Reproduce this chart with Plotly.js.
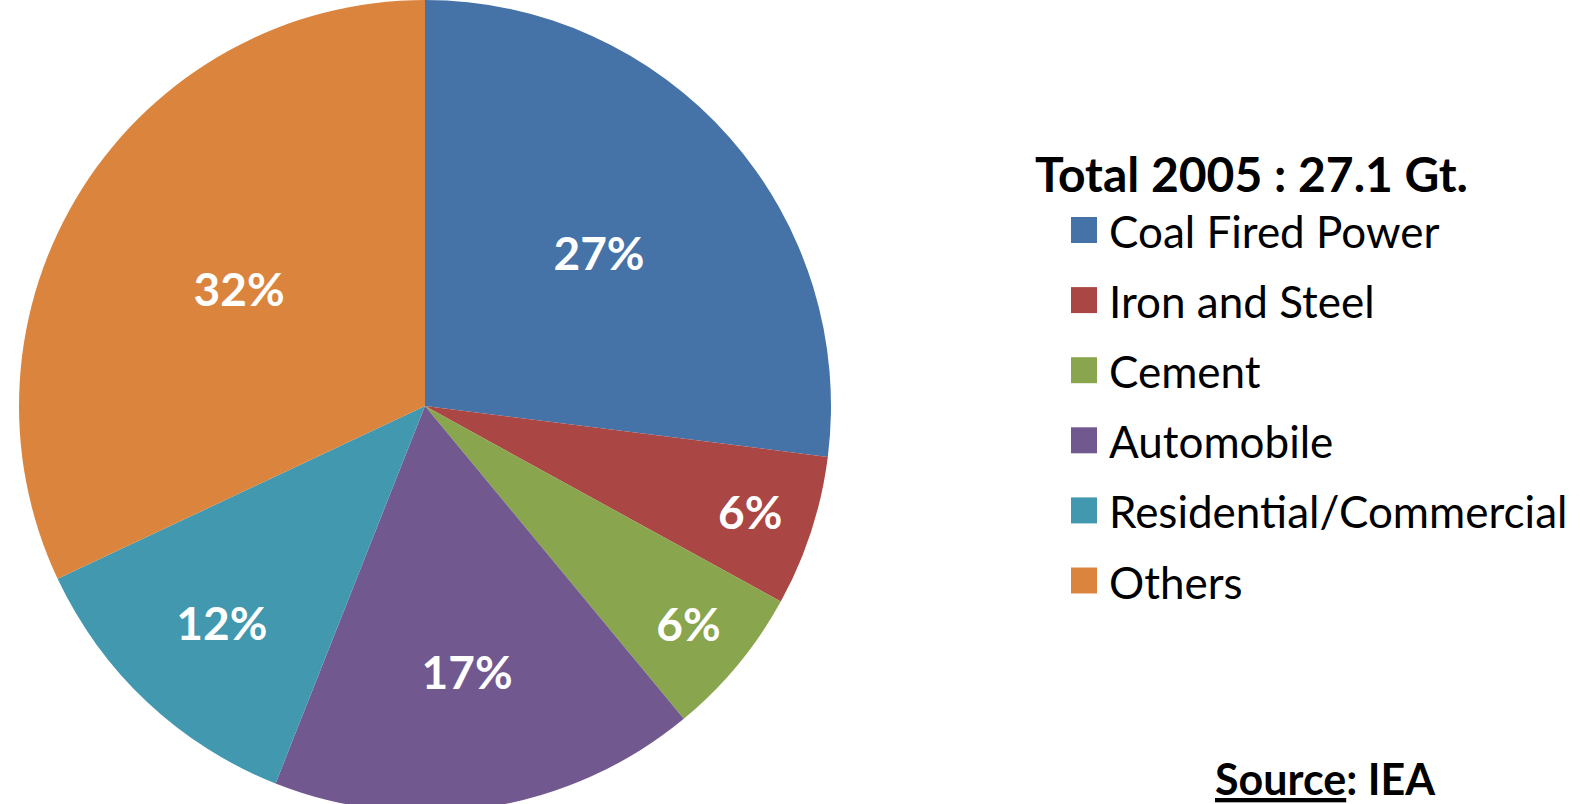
<!DOCTYPE html>
<html>
<head>
<meta charset="utf-8">
<script src="https://cdn.plot.ly/plotly-3.0.1.min.js"></script>
<style>
html,body{margin:0;padding:0;overflow:hidden;background:#fff;}
#chart{width:1585px;height:812px;}
</style>
</head>
<body>
<div id="chart"></div>
<script>
const categories = ["Coal Fired Power", "Iron and Steel", "Cement", "Automobile", "Residential/Commercial", "Others"];
const shares = [27, 6, 6, 17, 12, 32];
const colors = ["#4572A7", "#AA4643", "#89A54E", "#71588F", "#4198AF", "#DB843D"];
const legendTitle = "Total 2005 : 27.1 Gt.";
const sourceText = '<span style="text-decoration:underline">Source</span>: IEA';

const W = 1585, H = 812;
const px = x => x / W;
const py = y => 1 - y / H;

const cx = 425, r = 406;

const trace = {
  type: "pie",
  labels: categories,
  values: shares,
  sort: false,
  direction: "clockwise",
  rotation: 0,
  marker: { colors: colors, line: { width: 0 } },
  textinfo: "percent",
  texttemplate: "%{value}%",
  textposition: "inside",
  insidetextorientation: "horizontal",
  textfont: { family: "Lato, sans-serif", size: 46, color: "#ffffff", weight: "bold" },
  hoverinfo: "label+percent",
  domain: { x: [px(cx - r), px(cx + r)], y: [0, 1] },
  showlegend: false
};

const annotations = [];
const shapes = [];

annotations.push({
  xref: "paper", yref: "paper", x: px(1033), y: py(173),
  xanchor: "left", yanchor: "middle", showarrow: false,
  text: "<b>" + legendTitle + "</b>",
  font: { family: "Lato, sans-serif", size: 48, color: "#000000" }
});

const rowY0 = 230, rowStep = 70.1, sq = 26;
categories.forEach((c, i) => {
  const yc = rowY0 + rowStep * i;
  shapes.push({
    type: "rect", xref: "paper", yref: "paper",
    x0: px(1071), x1: px(1071 + sq), y0: py(yc - sq / 2), y1: py(yc + sq / 2),
    fillcolor: colors[i], line: { width: 0 }
  });
  annotations.push({
    xref: "paper", yref: "paper", x: px(1107), y: py(yc + 1),
    xanchor: "left", yanchor: "middle", showarrow: false,
    text: c,
    font: { family: "Lato, sans-serif", size: 44, color: "#000000" }
  });
});

annotations.push({
  xref: "paper", yref: "paper", x: px(1213), y: py(778),
  xanchor: "left", yanchor: "middle", showarrow: false,
  text: "<b>" + sourceText + "</b>",
  font: { family: "Lato, sans-serif", size: 43, color: "#000000" }
});

const layout = {
  width: W, height: H,
  margin: { l: 0, r: 0, t: 0, b: 0, pad: 0 },
  paper_bgcolor: "#ffffff",
  plot_bgcolor: "#ffffff",
  showlegend: false,
  annotations: annotations,
  shapes: shapes
};

Plotly.newPlot("chart", [trace], layout, { displayModeBar: false, staticPlot: true });
</script>
</body>
</html>
